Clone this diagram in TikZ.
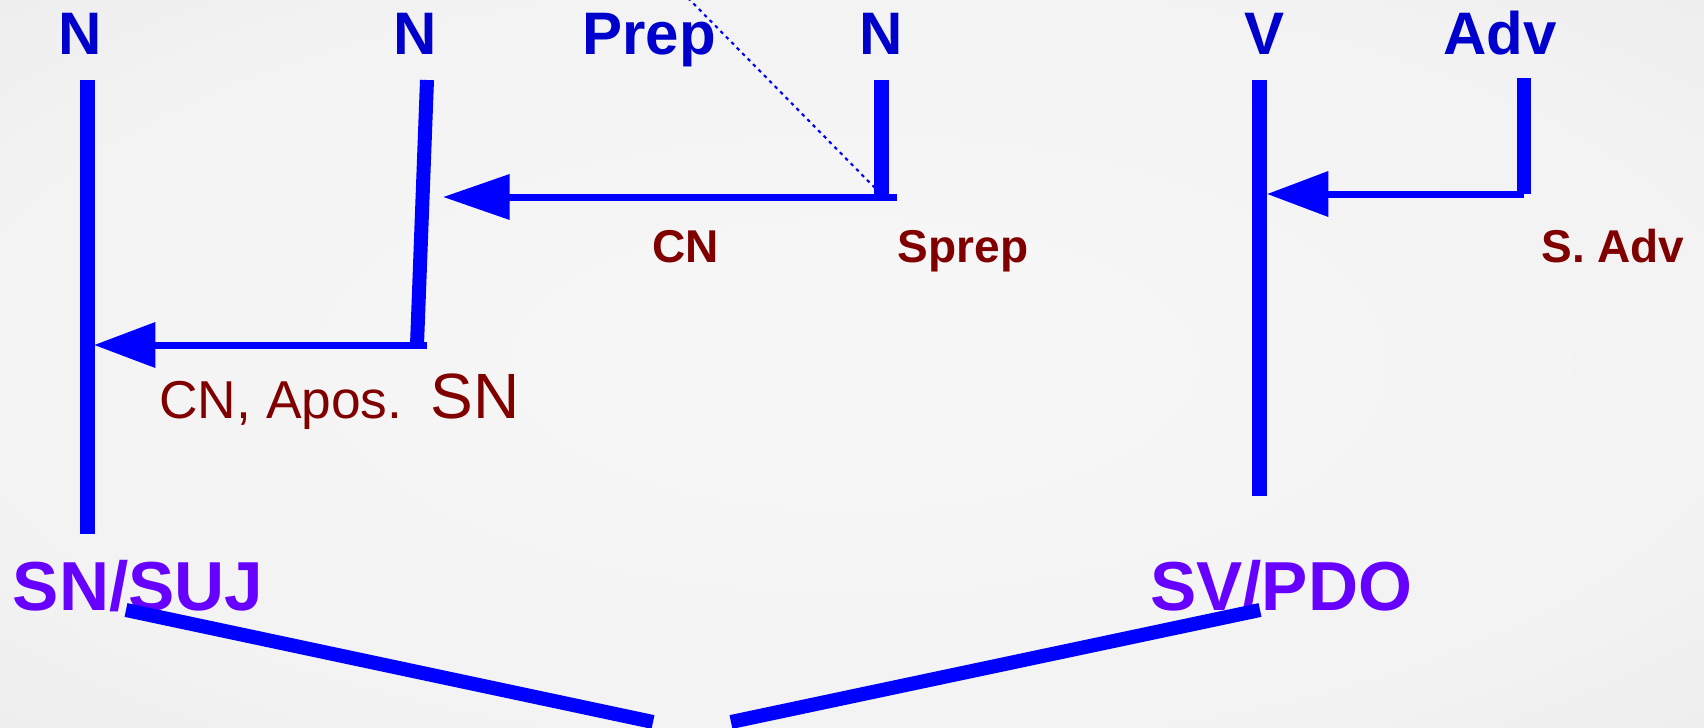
\documentclass[tikz,border=0pt]{standalone}
\usepackage{fontspec}
\setmainfont{Liberation Sans}
\usetikzlibrary{arrows.meta}
\definecolor{lblblue}{HTML}{0000CC}
\definecolor{lineblue}{HTML}{0000FF}
\definecolor{darkred}{HTML}{800000}
\definecolor{purp}{HTML}{6600FF}
\pgfdeclareradialshading{bgshade}{\pgfpoint{0bp}{0bp}}{color(0bp)=(white!97!black); color(28bp)=(white!95!black); color(50bp)=(white!90!black)}
\tikzset{
  toplbl/.style={font=\fontsize{45}{54}\selectfont\bfseries, text=lblblue, anchor=base, inner sep=0pt},
  rellbl/.style={font=\fontsize{34.5}{40}\selectfont\bfseries, text=darkred, anchor=base, inner sep=0pt},
  funclbl/.style={font=\fontsize{40}{48}\selectfont, text=darkred, anchor=base, inner sep=0pt},
  phrase/.style={font=\fontsize{52}{60}\selectfont\bfseries, text=purp, anchor=base, inner sep=0pt},
  stem/.style={draw=lineblue, line width=11.25pt},
  branch/.style={draw=lineblue, line width=10.5pt},
  link/.style={draw=lineblue, line width=5.25pt},
  guide/.style={draw=lineblue, line width=1.6pt, dash pattern=on 2.6pt off 3.2pt}
}
\begin{document}
\begin{tikzpicture}[x=0.75pt,y=-0.75pt]
\useasboundingbox (0,0) rectangle (1704,728);
\fill[shading=bgshade] (0,0) rectangle (1704,728);

% word labels
\node[toplbl] (n1) at (80,55) {N};
\node[toplbl] (n2) at (415,55) {N};
\node[toplbl] (prep) at (649,55) {Prep};
\node[toplbl] (n3) at (881,55) {N};
\node[toplbl] (v) at (1264,55) {V};
\node[toplbl] (adv) at (1500,55) {Adv};

% relation labels
\node[rellbl] (cn) at (686,262) {CN};
\node[rellbl] (sprep) at (963,262) {Sprep};
\node[rellbl] (sadv) at (1613,262) {S. Adv};
\node[funclbl] (cnapos) at (281,418) {CN, Apos.};
\node[font=\fontsize{48}{56}\selectfont, text=darkred, anchor=base, inner sep=0pt] (sn) at (475,418) {SN};

% phrase labels
\node[phrase] (snsuj) at (138,610) {SN/SUJ};
\node[phrase] (svpdo) at (1281,610) {SV/PDO};

% coordinates
\coordinate (l1t) at (87,80);   \coordinate (l1b) at (87,534);
\coordinate (l2t) at (427,80);  \coordinate (l2b) at (417,345);
\coordinate (a1s) at (427,345); \coordinate (a1t) at (94,345);
\coordinate (l3t) at (881,80);  \coordinate (l3b) at (881,197);
\coordinate (a2s) at (897,197); \coordinate (a2t) at (443,197);
\coordinate (dt) at (688,-2);   \coordinate (db) at (876,189);
\coordinate (lvt) at (1259,80); \coordinate (lvb) at (1259,496);
\coordinate (lat) at (1524,78); \coordinate (lab) at (1524,194);
\coordinate (a3s) at (1524,194); \coordinate (a3t) at (1267,194);
\coordinate (bl1) at (126,610); \coordinate (bl2) at (653,722);
\coordinate (br1) at (731,722); \coordinate (br2) at (1260,610);

% stems
\draw[stem] (l1t) -- (l1b);
\draw[stem, line width=10.5pt] (l2t) -- (l2b);
\draw[stem] (l3t) -- (l3b);
\draw[stem] (lvt) -- (lvb);
\draw[stem, line width=10.4pt] (lat) -- (lab);

% dotted guide
\draw[guide] (dt) -- (db);

% dependency arrows
\draw[link, -{Triangle[length=46pt,width=33pt]}] (a1s) -- (a1t);
\draw[link, -{Triangle[length=50pt,width=33pt]}] (a2s) -- (a2t);
\draw[link, -{Triangle[length=46pt,width=33pt]}] (a3s) -- (a3t);

% bottom branches
\draw[branch] (bl1) -- (bl2);
\draw[branch] (br1) -- (br2);
\end{tikzpicture}
\end{document}
